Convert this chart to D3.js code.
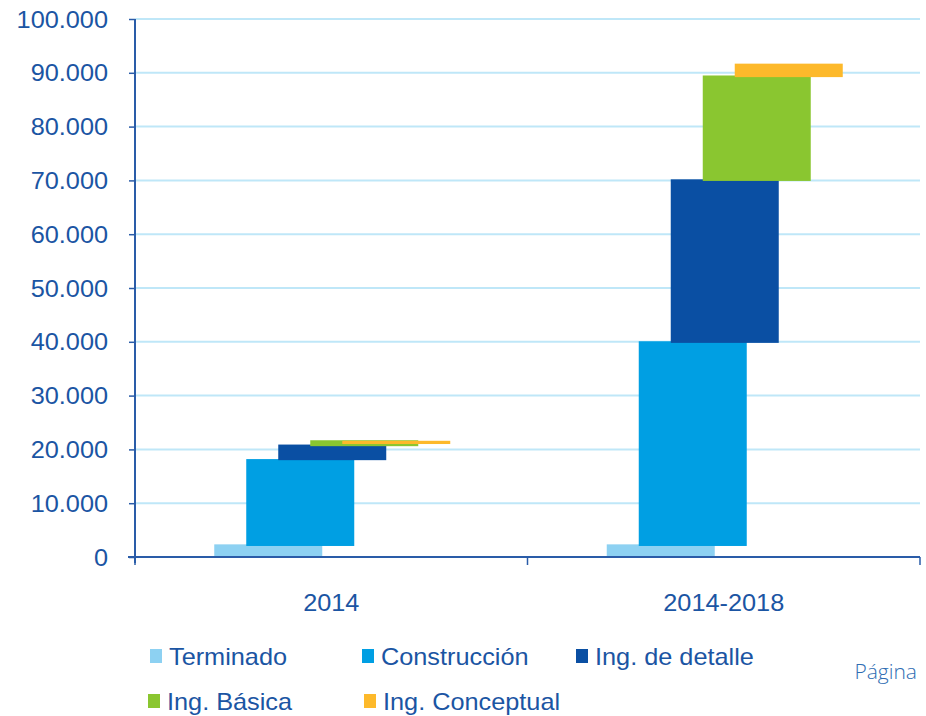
<!DOCTYPE html>
<html>
<head>
<meta charset="utf-8">
<script src="https://cdn.jsdelivr.net/npm/d3@7"></script>
<style>
  body { margin: 0; background: #fff; }
  text { font-family: "Liberation Sans", Arial, sans-serif; fill: #1b55a3; }
</style>
</head>
<body>
<script>

// data: each bar floats from [low, high]
var categories = ["2014", "2014-2018"];
var seriesNames = ["Terminado", "Construcción", "Ing. de detalle", "Ing. Básica", "Ing. Conceptual"];
var terminado    = [[0, 2350],     [0, 2350]];
var construccion = [[2050, 18200], [2050, 40100]];
var detalle      = [[18000, 20900], [39800, 70200]];
var basica       = [[20600, 21700], [69900, 89500]];
var conceptual   = [[21000, 21600], [89200, 91700]];
var yTicks = [0, 10000, 20000, 30000, 40000, 50000, 60000, 70000, 80000, 90000, 100000];

var colors = ["#8dd1f2", "#009fe3", "#0a4fa3", "#8ac630", "#fdb92b"];
var seriesData = [terminado, construccion, detalle, basica, conceptual];

var width = 926, height = 716;
var stretch = 1.1;
var fontSize = "23px";

var svg = d3.select("body").append("svg")
    .attr("width", width)
    .attr("height", height);

var x = d3.scaleBand().domain(categories).range([135, 920]).padding(0);
var offset = d3.scalePoint().domain(seriesNames).range([-63, 65]);
var barWidth = 108;
var y = d3.scaleLinear().domain([0, 100000]).range([557, 19]);

var fmt = d3.formatLocale({ decimal: ",", thousands: ".", grouping: [3], currency: ["", ""] }).format(",");

// gridlines
svg.append("g")
    .selectAll("line")
    .data(yTicks.slice(1))
    .enter()
    .append("line")
    .attr("x1", 135)
    .attr("x2", 920)
    .attr("y1", function(d) { return y(d); })
    .attr("y2", function(d) { return y(d); })
    .attr("stroke", "#bfe7f8")
    .attr("stroke-width", 2);

// bars
seriesNames.forEach(function(name, i) {
    svg.append("g")
        .selectAll("rect")
        .data(seriesData[i])
        .enter()
        .append("rect")
        .attr("x", function(d, j) { return x(categories[j]) + x.bandwidth() / 2 + offset(name) - barWidth / 2; })
        .attr("y", function(d) { return y(d[1]); })
        .attr("width", barWidth)
        .attr("height", function(d) { return y(d[0]) - y(d[1]); })
        .attr("fill", colors[i]);
});

// y axis
var yAxis = svg.append("g")
    .attr("transform", "translate(135,0)")
    .call(d3.axisLeft(y).tickValues(yTicks).tickSize(6).tickFormat(fmt));
yAxis.select(".domain").attr("stroke", "#2a5ca8").attr("stroke-width", 2).attr("d", "M0,19V563");
yAxis.selectAll(".tick line").attr("stroke", "#2a5ca8").attr("stroke-width", 1.5);
yAxis.selectAll(".tick text")
    .attr("x", null)
    .attr("dy", null)
    .attr("dominant-baseline", "central")
    .attr("transform", "translate(-27,0) scale(" + stretch + ",1)")
    .style("font-size", fontSize)
    .style("fill", "#1b55a3");

// x axis
var xAxis = svg.append("g")
    .attr("transform", "translate(0,557)")
    .call(d3.axisBottom(x).tickSize(0).tickPadding(0));
xAxis.select(".domain").attr("stroke", "#2a5ca8").attr("stroke-width", 2).attr("d", "M128,0H920");
xAxis.selectAll(".tick text")
    .attr("y", null)
    .attr("dy", null)
    .attr("transform", "translate(0,54) scale(" + stretch + ",1)")
    .style("font-size", fontSize)
    .style("fill", "#1b55a3");

// category separators on x axis
svg.append("g")
    .selectAll("line")
    .data([0, 1, 2])
    .enter()
    .append("line")
    .attr("x1", function(d) { return 135 + d * x.step(); })
    .attr("x2", function(d) { return 135 + d * x.step(); })
    .attr("y1", 557)
    .attr("y2", 565)
    .attr("stroke", "#2a5ca8")
    .attr("stroke-width", 1.5);

// legend
var legendPos = [[150, 657], [362, 657], [576, 657], [148, 702], [364, 702]];
var legend = svg.append("g");
seriesNames.forEach(function(name, i) {
    var g = legend.append("g").attr("transform", "translate(" + legendPos[i][0] + "," + legendPos[i][1] + ")");
    g.append("rect")
        .attr("x", 0)
        .attr("y", -8)
        .attr("width", 12)
        .attr("height", 14)
        .attr("fill", colors[i]);
    g.append("text")
        .attr("transform", "translate(19,0) scale(" + stretch + ",1)")
        .attr("dominant-baseline", "central")
        .style("font-size", fontSize)
        .text(name);
});

svg.append("text")
    .attr("x", 917)
    .attr("y", 671)
    .attr("text-anchor", "end")
    .attr("dominant-baseline", "central")
    .style("font-family", "'Open Sans', sans-serif")
    .style("font-size", "21px")
    .style("font-weight", 300)
    .style("fill", "#2f6db3")
    .text("Página");

</script>
</body>
</html>
